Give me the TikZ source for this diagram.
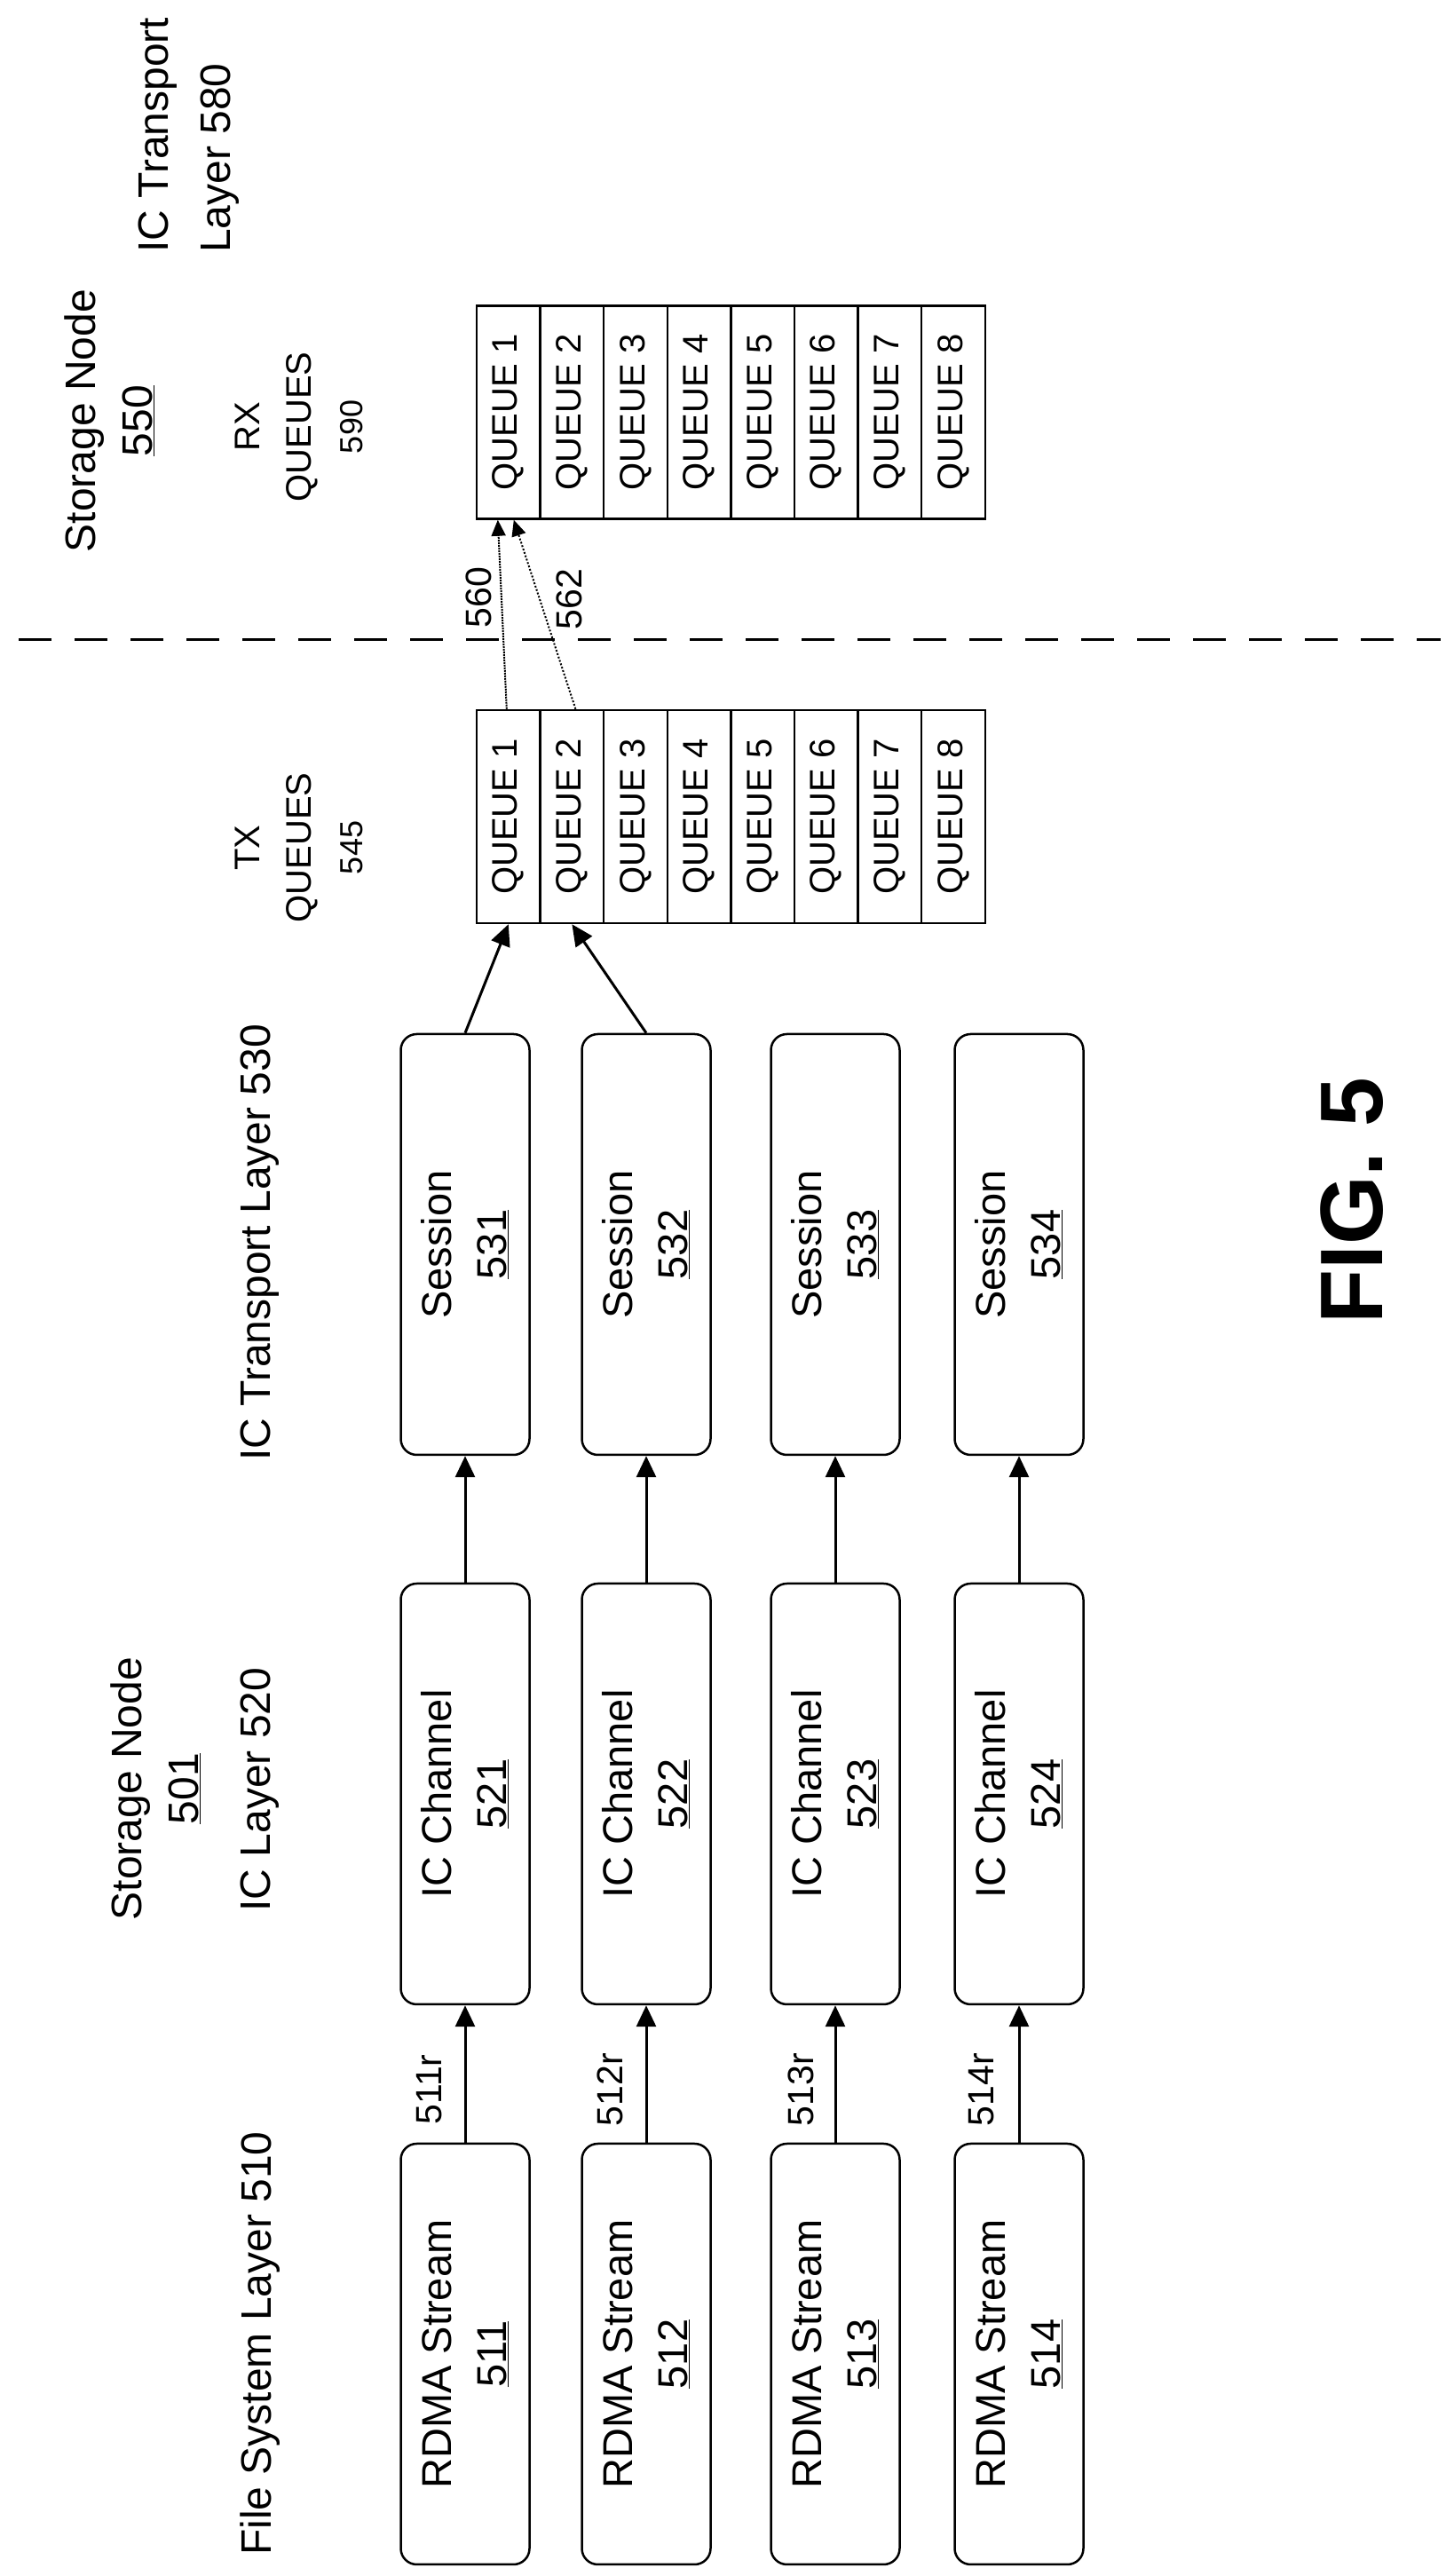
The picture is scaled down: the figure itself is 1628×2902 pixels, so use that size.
\documentclass[tikz,border=0pt]{standalone}
\usepackage{fontspec}
\setmainfont{Liberation Sans}
\usetikzlibrary{arrows.meta}
\begin{document}
\begin{tikzpicture}[x=1pt,y=1pt,
  box/.style={draw,line width=2.5pt,rounded corners=18pt,rotate=90,minimum width=474pt,minimum height=145pt,align=center,font=\fontsize{47}{62}\selectfont,inner sep=0pt},
  q/.style={draw,line width=2.5pt,rotate=90,minimum width=240pt,minimum height=71.6pt,inner sep=0pt,font=\fontsize{40}{48}\selectfont},
  lbl/.style={rotate=90,align=center,font=\fontsize{48}{70}\selectfont,inner sep=0pt},
  qlbl/.style={rotate=90,align=center,font=\fontsize{40}{58}\selectfont,inner sep=0pt},
  small/.style={rotate=90,inner sep=0pt,font=\fontsize{41}{48}\selectfont},
  arr/.style={line width=3pt,-{Triangle[length=24pt,width=22pt]}},
  darr/.style={line width=2pt,-{Triangle[length=18pt,width=16pt]}}]
\useasboundingbox (0,0) rectangle (1628,2902);
% boxes
\foreach \i/\x in {1/524,2/728,3/941,4/1148}{
  \node[box] (r\i) at (\x,250) {RDMA Stream\\\underline{51\i}};
  \node[box] (c\i) at (\x,881) {IC Channel\\\underline{52\i}};
  \node[box] (s\i) at (\x,1500) {Session\\\underline{53\i}};
  \draw[arr] (r\i.east) -- (c\i.west);
  \draw[arr] (c\i.east) -- (s\i.west);
}
\node[small] (l1) at (484,548) {511r};
\node[small] (l2) at (687,548) {512r};
\node[small] (l3) at (902,548) {513r};
\node[small] (l4) at (1106,548) {514r};
% queues
\foreach \i in {1,...,8}{
  \node[q] (t\i) at ({537+35.8+71.6*(\i-1)},1982) {QUEUE \i};
  \node[q] (x\i) at ({537+35.8+71.6*(\i-1)},2437.5) {QUEUE \i};
}
\draw[arr] (s1.east) -- (t1.west);
\draw[arr] (s2.east) -- (t2.west);
\draw[darr,densely dotted] ([xshift=-2pt]t1.east) -- ([xshift=-12pt]x1.west);
\draw[darr,dotted] ([xshift=4pt]t2.east) -- ([xshift=6pt]x1.west);
\node[small] (n560) at (539,2229) {560};
\node[small] (n562) at (641,2227) {562};
% dashed divider
\coordinate (d1) at (21,2181);
\coordinate (d2) at (1623,2181);
\draw[line width=3pt,dash pattern=on 37pt off 26pt] (d1) -- (d2);
% labels
\node[lbl] (sn550) at (123,2428) {Storage Node\\[-6pt]\underline{550}};
\node[qlbl] (rxq) at (337,2421) {RX\\QUEUES\\{\fontsize{36}{58}\selectfont 590}};
\node[qlbl] (txq) at (337,1947) {TX\\QUEUES\\{\fontsize{36}{58}\selectfont 545}};
\node[lbl,align=left,anchor=south west] (ict580) at (270,2617) {IC Transport\\Layer 580};
\node[lbl] (sn501) at (175,2015-1128) {Storage Node\\[-6pt]\underline{501}};
\node[lbl] (icl) at (293,886) {IC Layer 520};
\node[lbl] (fsl) at (293,262) {File System Layer 510};
\node[lbl] (ictl) at (293,1502) {IC Transport Layer 530};
\node[rotate=90,inner sep=0pt,font=\fontsize{100}{110}\selectfont\bfseries] (fig) at (1523,1549) {FIG. 5};
\end{tikzpicture}
\end{document}
